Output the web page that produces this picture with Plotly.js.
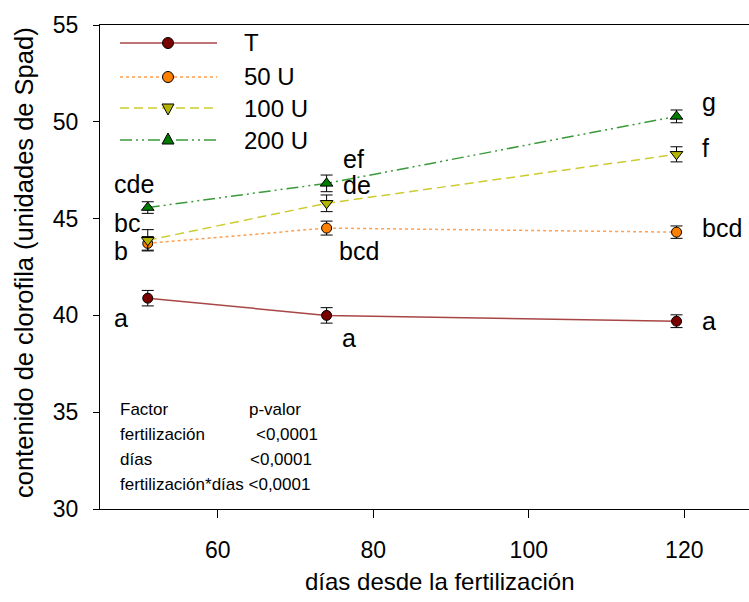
<!DOCTYPE html>
<html>
<head>
<meta charset="utf-8">
<script src="https://cdn.plot.ly/plotly-3.0.1.min.js"></script>
<style>html,body{margin:0;padding:0;background:#fff;}#chart{width:749px;height:602px;}</style>
</head>
<body>
<div id="chart"></div>
<script>
// ---- data ----
var days = [51, 74, 119];
var seriesNames = ["T", "50 U", "100 U", "200 U"];
var valT    = [40.89, 40.00, 39.70];
var val50   = [43.72, 44.51, 44.30];
var val100  = [43.88, 45.79, 48.32];
var val200  = [45.57, 46.82, 50.28];
var errT    = [0.40, 0.40, 0.33];
var err50   = [0.35, 0.36, 0.32];
var err100  = [0.55, 0.43, 0.39];
var err200  = [0.30, 0.43, 0.33];
var lettersT   = ["a", "a", "a"];
var letters50  = ["b", "bcd", "bcd"];
var letters100 = ["bc", "de", "f"];
var letters200 = ["cde", "ef", "g"];
var xTicks = [60, 80, 100, 120];
var yTicks = [30, 35, 40, 45, 50, 55];
var statsFactor = ["Factor", "fertilización", "días", "fertilización*días <0,0001"];
var statsP = ["p-valor", "<0,0001", "<0,0001", ""];

var FONT = "Liberation Sans, Arial, sans-serif";

var styles = [
  {line: {color: "#a84646", width: 1.5, dash: "solid"}, marker: {symbol: "circle", color: "#7a0000", size: 10}},
  {line: {color: "#ff9f50", width: 1.5, dash: "dot"}, marker: {symbol: "circle", color: "#ff8000", size: 10}},
  {line: {color: "#cccc30", width: 1.5, dash: "9px,5px"}, marker: {symbol: "triangle-down", color: "#b4b400", size: 11}},
  {line: {color: "#3a9a3a", width: 1.5, dash: "12px,4px,2px,4px,2px,4px"}, marker: {symbol: "triangle-up", color: "#007a00", size: 11}}
];
var vals = [valT, val50, val100, val200];
var errs = [errT, err50, err100, err200];

var traces = vals.map(function (v, i) {
  return {
    x: days, y: v, type: "scatter", mode: "lines+markers", name: seriesNames[i],
    line: styles[i].line,
    marker: {symbol: styles[i].marker.symbol, color: styles[i].marker.color, size: styles[i].marker.size,
             line: {color: "#000", width: 1}},
    error_y: {type: "data", array: errs[i], visible: true, color: "#000", thickness: 1, width: 6},
    showlegend: false, hoverinfo: "x+y"
  };
});

// plot area in pixels
var L = 100, R = 749, T = 25, B = 509;
function px(x) { return (x - L) / (R - L); }
function py(y) { return (B - y) / (B - T); }

var annotations = [];
// significance letters (positions given in pixel layout)
var letterPos = [
  // [text, leftPx, centerPy]
  [lettersT[0], 112, 318], [lettersT[1], 340, 338], [lettersT[2], 700, 321],
  [letters50[0], 112, 251], [letters50[1], 337, 251], [letters50[2], 700, 228],
  [letters100[0], 112, 223], [letters100[1], 341, 185], [letters100[2], 700, 148],
  [letters200[0], 112, 184], [letters200[1], 341, 159], [letters200[2], 700, 102]
];
letterPos.forEach(function (p) {
  annotations.push({text: p[0], xref: "paper", yref: "paper", x: px(p[1]), y: py(p[2]),
    xanchor: "left", yanchor: "middle", showarrow: false,
    font: {family: FONT, size: 25, color: "#000"}});
});

// stats text
var statRows = [409, 434, 459, 484];
var pLeft = [247, 254, 248, 0];
statsFactor.forEach(function (t, i) {
  annotations.push({text: t, xref: "paper", yref: "paper", x: px(118), y: py(statRows[i]),
    xanchor: "left", yanchor: "middle", showarrow: false, font: {family: FONT, size: 17, color: "#000"}});
  if (statsP[i]) {
    annotations.push({text: statsP[i], xref: "paper", yref: "paper", x: px(pLeft[i]), y: py(statRows[i]),
      xanchor: "left", yanchor: "middle", showarrow: false, font: {family: FONT, size: 17, color: "#000"}});
  }
});

// legend (drawn manually)
var legRows = [43, 77, 108, 140];
var shapes = [];
seriesNames.forEach(function (n, i) {
  var yp = py(legRows[i]);
  shapes.push({type: "line", xref: "paper", yref: "paper", x0: px(120), x1: px(217), y0: yp, y1: yp,
    line: {color: styles[i].line.color, width: styles[i].line.width, dash: styles[i].line.dash}});
  var sym = styles[i].marker.symbol;
  var fill = styles[i].marker.color;
  if (sym === "circle") {
    shapes.push({type: "circle", xref: "paper", yref: "paper", xsizemode: "pixel", ysizemode: "pixel",
      xanchor: px(168), yanchor: yp, x0: -5.5, x1: 5.5, y0: -5.5, y1: 5.5,
      fillcolor: fill, line: {color: "#000", width: 1}});
  } else {
    var path = sym === "triangle-down" ? "M-6,4L6,4L0,-7Z" : "M-6,-4L6,-4L0,7Z";
    shapes.push({type: "path", xref: "paper", yref: "paper", xsizemode: "pixel", ysizemode: "pixel",
      xanchor: px(168), yanchor: yp, path: path,
      fillcolor: fill, line: {color: "#000", width: 1}});
  }
  annotations.push({text: n, xref: "paper", yref: "paper", x: px(242), y: yp,
    xanchor: "left", yanchor: "middle", showarrow: false, font: {family: FONT, size: 24, color: "#000"}});
});

// axis titles
annotations.push({text: "días desde la fertilización", xref: "paper", yref: "paper",
  x: px(439), y: py(581), xanchor: "center", yanchor: "middle", showarrow: false,
  font: {family: FONT, size: 24, color: "#000"}});
annotations.push({text: "contenido de clorofila (unidades de Spad)", xref: "paper", yref: "paper",
  x: px(24), y: py(263), xanchor: "center", yanchor: "middle", textangle: -90, showarrow: false,
  font: {family: FONT, size: 25.5, color: "#000"}});

var layout = {
  width: 749, height: 602,
  margin: {l: L, r: 749 - R, t: T, b: 602 - B, pad: 0},
  paper_bgcolor: "#fff", plot_bgcolor: "#fff",
  font: {family: FONT, size: 23, color: "#000"},
  showlegend: false,
  xaxis: {range: [44.86, 128.32], tickvals: xTicks, ticktext: xTicks.map(String),
    ticks: "outside", ticklen: 8, tickwidth: 1, tickcolor: "#000",
    showline: true, linecolor: "#000", linewidth: 1, mirror: true,
    showgrid: false, zeroline: false, ticklabelstandoff: 12,
    tickfont: {family: FONT, size: 23, color: "#000"}},
  yaxis: {range: [30, 55], tickvals: yTicks, ticktext: yTicks.map(String),
    ticks: "outside", ticklen: 6, tickwidth: 1, tickcolor: "#000",
    showline: true, linecolor: "#000", linewidth: 1,
    showgrid: false, zeroline: false, ticklabelstandoff: 10,
    tickfont: {family: FONT, size: 23, color: "#000"}},
  annotations: annotations,
  shapes: shapes
};

Plotly.newPlot("chart", traces, layout, {staticPlot: true, displayModeBar: false});
</script>
</body>
</html>
